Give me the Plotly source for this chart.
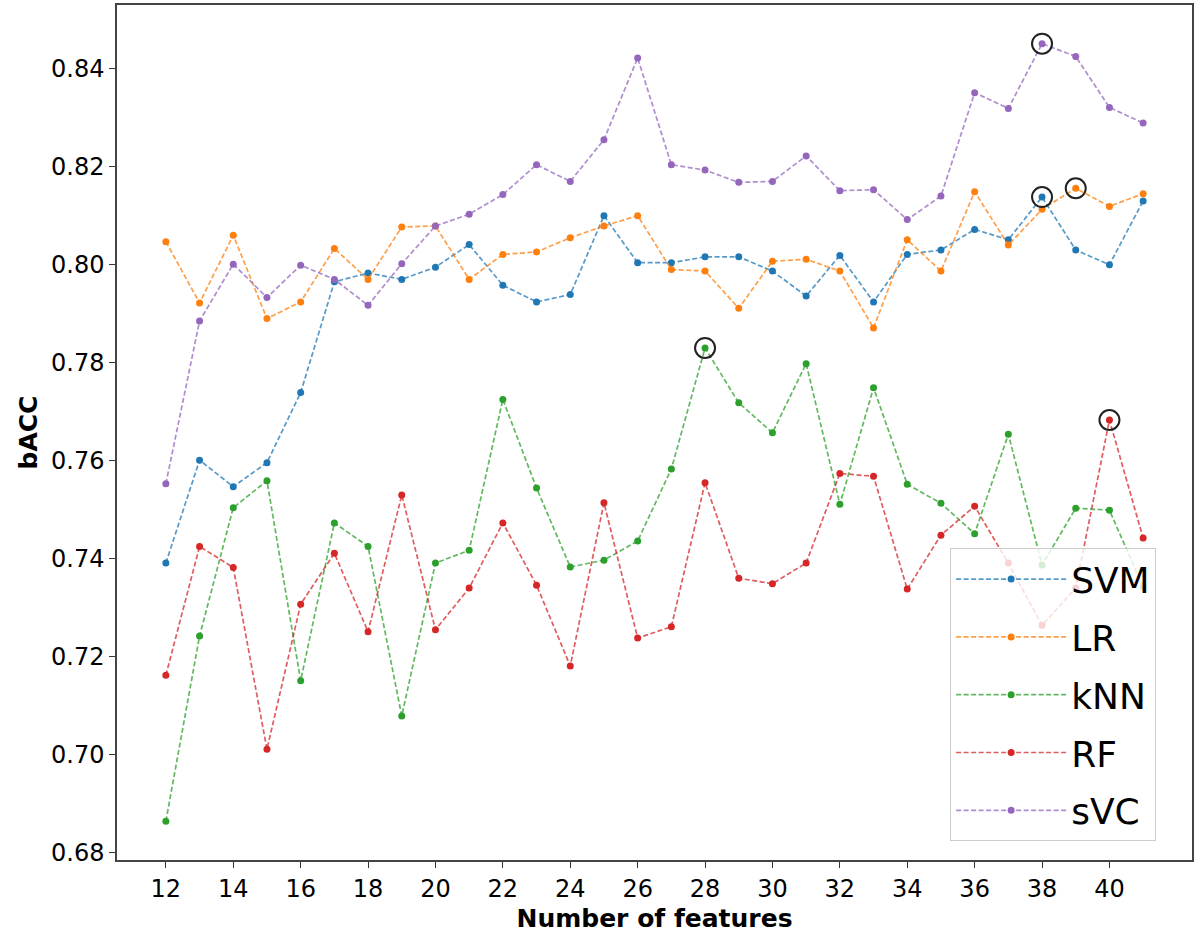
import numpy as np
import plotly.graph_objects as go

# Number of features evaluated
features = [12, 13, 14, 15, 16, 17, 18, 19, 20, 21, 22, 23, 24, 25, 26,
            27, 28, 29, 30, 31, 32, 33, 34, 35, 36, 37, 38, 39, 40, 41]

# balanced accuracy per classifier
svm = [0.7390, 0.7600, 0.7546, 0.7595, 0.7738, 0.7964, 0.7982, 0.7969, 0.7994, 0.8040,
       0.7957, 0.7923, 0.7938, 0.8099, 0.8003, 0.8003, 0.8015, 0.8015, 0.7986, 0.7935,
       0.8018, 0.7923, 0.8020, 0.8029, 0.8071, 0.8050, 0.8137, 0.8029, 0.7999, 0.8129]
lr = [0.8046, 0.7921, 0.8059, 0.7889, 0.7923, 0.8032, 0.7969, 0.8076, 0.8078, 0.7969,
      0.8020, 0.8025, 0.8054, 0.8078, 0.8099, 0.7989, 0.7986, 0.7910, 0.8006, 0.8010,
      0.7986, 0.7870, 0.8050, 0.7986, 0.8148, 0.8039, 0.8112, 0.8155, 0.8118, 0.8144]
knn = [0.6863, 0.7241, 0.7503, 0.7558, 0.7150, 0.7472, 0.7424, 0.7078, 0.7390, 0.7416,
       0.7724, 0.7543, 0.7382, 0.7396, 0.7435, 0.7582, 0.7829, 0.7717, 0.7656, 0.7797,
       0.7510, 0.7748, 0.7551, 0.7512, 0.7450, 0.7653, 0.7386, 0.7502, 0.7498, 0.7341]
rf = [0.7161, 0.7424, 0.7381, 0.7010, 0.7306, 0.7410, 0.7250, 0.7529, 0.7254, 0.7339,
      0.7472, 0.7345, 0.7180, 0.7513, 0.7237, 0.7260, 0.7554, 0.7359, 0.7348, 0.7390,
      0.7573, 0.7567, 0.7337, 0.7447, 0.7506, 0.7390, 0.7263, 0.7339, 0.7682, 0.7441]
svc = [0.7552, 0.7884, 0.8000, 0.7932, 0.7998, 0.7969, 0.7916, 0.8001, 0.8078, 0.8102,
       0.8142, 0.8203, 0.8169, 0.8254, 0.8421, 0.8203, 0.8192, 0.8167, 0.8169, 0.8221,
       0.8150, 0.8152, 0.8091, 0.8139, 0.8350, 0.8318, 0.8450, 0.8424, 0.8320, 0.8288]

names = ["SVM", "LR", "kNN", "RF", "sVC"]
series = [svm, lr, knn, rf, svc]
colors = [(31, 119, 180), (255, 127, 14), (44, 160, 44), (214, 39, 40), (148, 103, 189)]

fig = go.Figure()

for name, vals, (r, g, b) in zip(names, series, colors):
    fig.add_trace(go.Scatter(
        x=features, y=vals, name=name, legendgroup=name,
        mode="lines+markers",
        line=dict(color=f"rgba({r},{g},{b},0.75)", width=1.7, dash="5px,2.5px"),
        marker=dict(color=f"rgb({r},{g},{b})", size=7),
    ))

# ring around the best score of each model
best_x = [features[int(np.argmax(v))] for v in series]
best_y = [max(v) for v in series]
fig.add_trace(go.Scatter(
    x=best_x, y=best_y, mode="markers", showlegend=False, hoverinfo="skip",
    marker=dict(symbol="circle-open", size=20, color="#222222", line=dict(width=2)),
))

tick_font = dict(family="DejaVu Sans", size=24, color="black")
title_font = dict(family="DejaVu Sans", size=25, color="black")

fig.update_xaxes(
    range=[10.55, 42.45], tickvals=features[::2], ticks="outside", ticklen=6,
    tickcolor="#333", tickfont=tick_font, showgrid=False, zeroline=False,
    showline=True, linecolor="#444", linewidth=1.5, mirror=True, automargin=False,
    title=dict(text="<b>Number of features</b>", font=title_font, standoff=8),
)
fig.update_yaxes(
    range=[0.6784, 0.8529], tickvals=[0.68, 0.70, 0.72, 0.74, 0.76, 0.78, 0.80, 0.82, 0.84],
    tickformat=".2f", ticks="outside", ticklen=6, tickcolor="#333", tickfont=tick_font,
    showgrid=False, zeroline=False, automargin=False,
    showline=True, linecolor="#444", linewidth=1.5, mirror=True,
    title=dict(text="<b>bACC</b>", font=title_font, standoff=6),
)

fig.update_layout(
    width=1200, height=943,
    margin=dict(l=117, r=8, t=5, b=83),
    plot_bgcolor="white", paper_bgcolor="white",
    legend=dict(
        x=0.775, y=0.022, xanchor="left", yanchor="bottom",
        font=dict(family="DejaVu Sans", size=36, color="black"),
        bgcolor="rgba(255,255,255,0.8)", bordercolor="#cccccc", borderwidth=1,
        itemwidth=110, tracegroupgap=8,
    ),
)

fig.write_html("out.html", config={"displayModeBar": False},
               post_script="document.body.style.margin = '0px';")
